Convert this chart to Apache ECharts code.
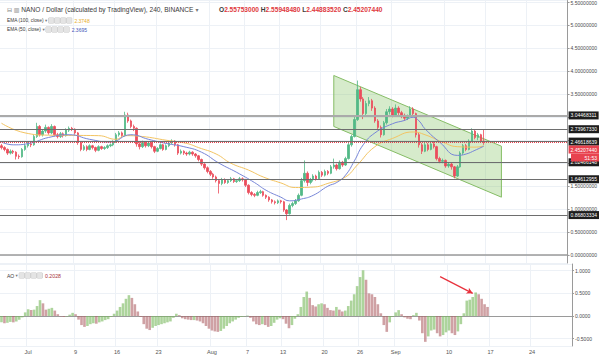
<!DOCTYPE html>
<html><head><meta charset="utf-8">
<script src="https://cdn.jsdelivr.net/npm/echarts@6/dist/echarts.min.js"></script>
<style>html,body{margin:0;padding:0;background:#fff}#c{width:600px;height:356px}</style>
</head><body><div id="c"></div>
<script>
// ---- axis / label data ----
const startUTC = Date.UTC(2018, 5, 26, 12); // first 12h slot
const slotCount = 193;
const dateLabels = [['07-01','Jul'],['07-09','9'],['07-16','16'],['07-23','23'],['08-01','Aug'],['08-07','7'],['08-13','13'],['08-20','20'],['08-26','26'],['09-01','Sep'],['09-10','10'],['09-17','17'],['09-24','24']];
const priceAxis = {min: -0.174, max: 5.543};
const hiddenPriceTicks = [3.0, 2.5, 2.0]; // covered by level labels in the reference
const aoAxis = {min: -0.662, max: 1.148};

// ---- candles: [open, close, low, high] per 12h slot ----
const candles = [
[2.38,2.34,2.30,2.42],[2.34,2.30,2.26,2.37],[2.30,2.22,2.18,2.32],[2.22,2.26,2.19,2.30],[2.26,2.24,2.20,2.29],
[2.24,2.15,2.08,2.26],[2.15,2.14,2.09,2.19],[2.14,2.30,2.12,2.33],[2.30,2.38,2.27,2.43],[2.38,2.42,2.34,2.47],
[2.42,2.40,2.35,2.46],[2.40,2.58,2.38,2.62],[2.58,2.80,2.55,2.88],[2.80,2.62,2.58,2.83],[2.62,2.70,2.58,2.74],
[2.70,2.78,2.66,2.84],[2.78,2.66,2.62,2.80],[2.66,2.80,2.63,2.85],[2.80,2.62,2.58,2.82],[2.62,2.58,2.54,2.66],
[2.58,2.64,2.55,2.68],[2.64,2.60,2.56,2.67],[2.60,2.72,2.58,2.76],[2.72,2.76,2.68,2.80],[2.76,2.74,2.70,2.79],
[2.74,2.66,2.62,2.76],[2.66,2.45,2.40,2.68],[2.45,2.30,2.26,2.48],[2.30,2.36,2.27,2.40],[2.36,2.30,2.26,2.39],
[2.30,2.38,2.28,2.41],[2.38,2.34,2.30,2.40],[2.34,2.28,2.24,2.36],[2.28,2.36,2.26,2.39],[2.36,2.32,2.29,2.38],
[2.32,2.34,2.29,2.37],[2.34,2.38,2.31,2.41],[2.38,2.40,2.35,2.43],[2.40,2.46,2.37,2.50],[2.46,2.62,2.44,2.66],
[2.62,2.66,2.58,2.70],[2.66,2.60,2.56,2.69],[2.60,3.05,2.58,3.12],[3.05,2.92,2.88,3.10],[2.92,2.80,2.76,2.95],
[2.80,2.76,2.70,2.84],[2.76,2.42,2.36,2.78],[2.42,2.36,2.30,2.46],[2.36,2.45,2.33,2.49],[2.45,2.38,2.34,2.48],
[2.38,2.44,2.35,2.47],[2.44,2.36,2.32,2.46],[2.36,2.26,2.22,2.38],[2.26,2.32,2.24,2.35],[2.32,2.40,2.30,2.43],
[2.40,2.30,2.27,2.42],[2.30,2.38,2.28,2.41],[2.38,2.44,2.35,2.48],[2.44,2.48,2.41,2.52],[2.48,2.40,2.36,2.50],
[2.40,2.22,2.18,2.42],[2.22,2.26,2.19,2.30],[2.26,2.22,2.18,2.28],[2.22,2.20,2.16,2.25],[2.20,2.24,2.17,2.27],
[2.24,2.20,2.16,2.26],[2.20,2.16,2.12,2.22],[2.16,2.08,2.04,2.18],[2.08,1.98,1.94,2.10],[1.98,1.90,1.86,2.00],
[1.90,1.82,1.78,1.93],[1.82,1.76,1.72,1.85],[1.76,1.70,1.66,1.79],[1.70,1.62,1.58,1.73],[1.62,1.56,1.34,1.65],
[1.56,1.64,1.52,1.68],[1.64,1.58,1.55,1.67],[1.58,1.62,1.55,1.65],[1.62,1.66,1.59,1.70],[1.66,1.60,1.57,1.68],
[1.60,1.62,1.57,1.65],[1.62,1.66,1.59,1.70],[1.66,1.64,1.60,1.69],[1.64,1.52,1.48,1.66],[1.52,1.36,1.32,1.54],
[1.36,1.32,1.28,1.39],[1.32,1.30,1.26,1.35],[1.30,1.36,1.28,1.40],[1.36,1.38,1.33,1.42],[1.38,1.30,1.27,1.40],
[1.30,1.26,1.22,1.32],[1.26,1.20,1.16,1.28],[1.20,1.16,1.12,1.22],[1.16,1.14,1.10,1.19],[1.14,1.18,1.11,1.21],
[1.18,1.16,1.12,1.20],[1.16,0.98,0.94,1.18],[0.98,0.90,0.76,1.00],[0.90,1.08,0.88,1.12],[1.08,1.12,1.04,1.16],
[1.12,1.18,1.09,1.22],[1.18,1.30,1.16,1.34],[1.30,1.62,1.28,1.68],[1.62,1.78,1.58,2.06],[1.78,1.58,1.50,1.82],
[1.58,1.64,1.54,1.68],[1.64,1.72,1.60,1.76],[1.72,1.66,1.62,1.75],[1.66,1.80,1.64,1.84],[1.80,1.74,1.70,1.83],
[1.74,1.82,1.71,1.86],[1.82,1.78,1.74,1.85],[1.78,1.92,1.76,1.96],[1.92,1.96,1.88,2.10],[1.96,1.88,1.84,1.99],
[1.88,2.02,1.86,2.06],[2.02,1.96,1.92,2.05],[1.96,2.10,1.94,2.14],[2.10,2.40,2.08,2.46],[2.40,2.58,2.36,2.62],
[2.58,2.95,2.56,3.02],[2.95,3.60,2.92,3.80],[3.60,3.40,3.34,3.66],[3.40,3.08,2.96,3.44],[3.08,3.30,3.04,3.36],
[3.30,3.36,3.24,3.44],[3.36,3.20,3.14,3.40],[3.20,2.92,2.88,3.24],[2.92,2.78,2.72,2.96],[2.78,2.62,2.56,2.82],
[2.62,2.88,2.60,2.92],[2.88,3.12,2.84,3.18],[3.12,3.18,3.06,3.24],[3.18,3.05,3.00,3.22],[3.05,3.20,3.02,3.28],
[3.20,3.10,3.05,3.24],[3.10,3.04,2.98,3.14],[3.04,2.98,2.92,3.08],[2.98,3.02,2.94,3.06],[3.02,3.18,3.00,3.24],
[3.18,3.08,3.02,3.22],[3.08,2.62,2.56,3.10],[2.62,2.40,2.34,2.66],[2.40,2.26,2.20,2.44],[2.26,2.40,2.24,2.44],
[2.40,2.30,2.26,2.44],[2.30,2.42,2.28,2.46],[2.42,2.36,2.32,2.46],[2.36,2.10,2.06,2.38],[2.10,2.04,2.00,2.14],
[2.04,2.06,2.00,2.10],[2.06,1.94,1.90,2.08],[1.94,1.98,1.90,2.02],[1.98,1.92,1.86,2.01],[1.92,1.72,1.67,1.94],
[1.72,1.92,1.70,1.96],[1.92,2.22,1.90,2.26],[2.22,2.38,2.18,2.42],[2.38,2.30,2.26,2.42],[2.30,2.48,2.28,2.52],
[2.48,2.70,2.46,2.76],[2.70,2.56,2.52,2.74],[2.56,2.62,2.50,2.66],[2.62,2.48,2.44,2.64],[2.48,2.452,2.40,2.73]
];

// ---- EMA lines: [slot, value] ----
const ema100 = [[0,2.87],[8,2.66],[16,2.61],[33,2.60],[39,2.52],[42,2.60],[48,2.58],[56,2.50],[63,2.43],[67,2.34],[73,2.20],[78,2.00],[84,1.85],[89,1.70],[95,1.57],[100,1.47],[106,1.48],[111,1.56],[117,1.70],[121,1.96],[127,2.36],[133,2.54],[140,2.68],[144,2.62],[150,2.46],[155,2.36],[161,2.35],[164,2.375]];
const ema50 = [[0,2.46],[4,2.40],[10,2.44],[16,2.56],[23,2.62],[30,2.52],[37,2.46],[44,2.62],[50,2.52],[56,2.43],[62,2.36],[68,2.24],[74,2.00],[80,1.80],[86,1.58],[90,1.41],[95,1.26],[98,1.18],[102,1.22],[106,1.30],[111,1.50],[114,1.58],[117,1.74],[120,2.05],[123,2.40],[127,2.66],[133,2.86],[137,2.93],[140,3.00],[142,2.92],[144,2.75],[149,2.46],[155,2.17],[158,2.20],[161,2.28],[164,2.37]];

// ---- horizontal levels ----
const levels = [3.04468311, 2.73967330, 2.46618639, 2.02466148, 1.64612955, 0.86803334];
const lastPrice = 2.45207440;
const countdown = '51:53';
const lastOHLC = [['O','2.55753000'],['H','2.55948480'],['L','2.44883520'],['C','2.45207440']];
const emaLegend = [['EMA (100, close)','2.3748'],['EMA (50, close)','2.3695']];
const aoLegendValue = '0.2028';

// ---- channel corners [slot, price] ----
const channel = [[112.5,3.91],[170.2,2.37],[170.2,1.26],[112.5,2.80]];

// ---- AO histogram values per slot ----
const ao = [
-0.14,-0.16,-0.15,-0.13,-0.14,-0.12,-0.08,-0.03,0.08,0.15,
0.13,0.14,0.22,0.35,0.28,0.14,0.16,0.18,0.12,0.04,
-0.01,-0.02,-0.01,0.03,0.07,0.04,-0.08,-0.20,-0.24,-0.22,
-0.18,-0.16,-0.17,-0.14,-0.12,-0.09,-0.07,-0.02,0.05,0.12,
0.20,0.28,0.38,0.46,0.40,0.26,0.10,-0.02,-0.18,-0.28,
-0.31,-0.26,-0.22,-0.20,-0.18,-0.16,-0.14,-0.12,-0.04,0.05,
0.02,-0.05,-0.07,-0.08,-0.09,-0.09,-0.10,-0.12,-0.16,-0.22,
-0.28,-0.32,-0.34,-0.35,-0.33,-0.28,-0.22,-0.16,-0.12,-0.08,
-0.04,-0.02,-0.01,0.01,-0.04,-0.12,-0.18,-0.20,-0.18,-0.20,
-0.24,-0.22,-0.15,-0.08,-0.05,-0.07,-0.17,-0.27,-0.20,-0.06,
0.04,0.20,0.42,0.54,0.40,0.24,0.21,0.26,0.28,0.26,
0.18,0.13,0.12,0.20,0.14,0.10,0.12,0.22,0.34,0.48,
0.66,0.86,1.01,0.80,0.50,0.48,0.42,0.26,0.06,-0.20,
-0.35,-0.14,-0.02,0.08,0.13,0.04,-0.03,-0.06,-0.07,0.02,
0.07,-0.10,-0.38,-0.57,-0.45,-0.32,-0.30,-0.38,-0.45,-0.42,
-0.36,-0.32,-0.38,-0.42,-0.34,-0.18,0.06,0.34,0.36,0.42,
0.52,0.48,0.38,0.26,0.20
];
const arrowAO = [[148,0.87],[159,0.50]];

// ---- build ----
const pad = n => (n < 10 ? '0' : '') + n;
const categories = [];
for (let i = 0; i < slotCount; i++) {
  const d = new Date(startUTC + i * 12 * 3600e3);
  categories.push(pad(d.getUTCMonth() + 1) + '-' + pad(d.getUTCDate()) + ' ' + pad(d.getUTCHours()));
}
const labelMap = {};
dateLabels.forEach(([d, l]) => { labelMap[d + ' 00'] = l; });
const showTick = (idx, val) => labelMap[val] !== undefined;

const aoData = ao.map((v, i) => ({
  value: v,
  itemStyle: {color: (i > 0 && v < ao[i - 1]) ? 'rgba(178,104,108,0.62)' : 'rgba(122,186,96,0.62)'}
}));

const FONT = 'Liberation Sans';
const gridLine = {show: true, lineStyle: {color: '#edf1f6', width: 1}};
const boxRich = {width: 5, height: 5, backgroundColor: '#e4e4e4', borderColor: '#c4c4c4', borderWidth: 0.5, fontSize: 4, color: '#999', align: 'center'};
const boxes = ' {b|}{s|}{b|}{s|}{b|}{s|}{b|}  ';

const levelMarks = levels.map((v, i) => ({
  yAxis: v,
  lineStyle: {color: i === 0 ? '#aaaaaa' : '#6e6e6e', width: i === 0 ? 2 : 1.2, type: 'solid'},
  label: {formatter: v.toFixed(8)}
}));
levelMarks.push({
  yAxis: lastPrice,
  lineStyle: {color: '#e8424e', width: 1, type: 'dotted'},
  label: {
    formatter: '{sp|}\n{a|' + lastPrice.toFixed(8) + '}\n{c|' + countdown + '}',
    backgroundColor: 'transparent', padding: 0, verticalAlign: 'top',
    rich: {
      sp: {height: 3},
      a: {backgroundColor: '#e8424e', color: '#fff', fontSize: 5, padding: [1.5, 2], fontFamily: FONT},
      c: {backgroundColor: '#e8424e', color: '#fff', fontSize: 5, padding: [1.5, 2], fontFamily: FONT, width: 24, align: 'right'}
    }
  }
});

const option = {
  animation: false,
  backgroundColor: '#ffffff',
  title: [
    {left: 2, top: 1, text: '{g|⊟} {g|▥} NANO / Dollar (calculated by TradingView), 240, BINANCE {g|▾}',
     textStyle: {fontSize: 6.6, color: '#3a3a3a', fontWeight: 'normal', fontFamily: FONT, rich: {g: {fontSize: 6, color: '#777', fontFamily: 'DejaVu Sans'}}}},
    {left: 214, top: 1, text: lastOHLC.map(([k, v]) => '{k|' + k + '}{r|' + v + '}').join(' '),
     textStyle: {fontSize: 6.6, fontFamily: FONT, rich: {k: {color: '#3a3a3a', fontSize: 6.6, fontFamily: FONT}, r: {color: '#e0393e', fontSize: 6.6, fontFamily: FONT}}}},
    {left: 2, top: 13, text: emaLegend[0][0] + ' {g|▾}' + boxes + '{v|' + emaLegend[0][1] + '}',
     textStyle: {fontSize: 4.8, color: '#3a3a3a', fontWeight: 'normal', fontFamily: FONT,
       rich: {g: {fontSize: 4.5, color: '#777', fontFamily: 'DejaVu Sans'}, b: boxRich, s: {width: 1}, v: {color: '#e7ad29', fontSize: 5, fontFamily: FONT}}}},
    {left: 2, top: 22, text: emaLegend[1][0] + ' {g|▾}' + boxes + '{v|' + emaLegend[1][1] + '}',
     textStyle: {fontSize: 4.8, color: '#3a3a3a', fontWeight: 'normal', fontFamily: FONT,
       rich: {g: {fontSize: 4.5, color: '#777', fontFamily: 'DejaVu Sans'}, b: boxRich, s: {width: 1}, v: {color: '#4356b8', fontSize: 5, fontFamily: FONT}}}},
    {left: 2, top: 268, text: 'AO {g|▾}' + boxes + '{v|' + aoLegendValue + '}',
     textStyle: {fontSize: 5, color: '#3a3a3a', fontWeight: 'normal', fontFamily: FONT,
       rich: {g: {fontSize: 4.5, color: '#777', fontFamily: 'DejaVu Sans'}, b: boxRich, s: {width: 1}, v: {color: '#a8323c', fontSize: 5.2, fontFamily: FONT}}}}
  ],
  grid: [
    {left: 0, top: 0, width: 572, height: 263},
    {left: 0, top: 264, width: 572, height: 82}
  ],
  xAxis: [
    {type: 'category', gridIndex: 0, data: categories, boundaryGap: true,
     axisLabel: {show: false}, axisTick: {show: false},
     axisLine: {show: true, lineStyle: {color: '#9a9a9a', width: 1.5}},
     splitLine: {show: true, interval: showTick, lineStyle: {color: '#edf1f6'}}},
    {type: 'category', gridIndex: 1, data: categories, boundaryGap: true,
     axisTick: {show: false},
     axisLine: {show: true, lineStyle: {color: '#9a9a9a', width: 1}},
     axisLabel: {show: true, interval: showTick, formatter: v => labelMap[v] || '', fontSize: 5.6, color: '#555', margin: 3, fontFamily: FONT},
     splitLine: {show: true, interval: showTick, lineStyle: {color: '#edf1f6'}}}
  ],
  yAxis: [
    {type: 'value', gridIndex: 0, position: 'right', min: priceAxis.min, max: priceAxis.max, splitNumber: 11, scale: true,
     axisLine: {show: true, lineStyle: {color: '#9a9a9a', width: 1}}, axisTick: {show: true, length: 2, lineStyle: {color: '#9a9a9a'}},
     axisLabel: {fontSize: 5, color: '#4a4a4a', margin: 3, fontFamily: FONT,
       formatter: v => hiddenPriceTicks.some(h => Math.abs(h - v) < 1e-6) ? '' : v.toFixed(8),
       showMinLabel: false, showMaxLabel: false},
     splitLine: gridLine},
    {type: 'value', gridIndex: 1, position: 'right', min: aoAxis.min, max: aoAxis.max, splitNumber: 4,
     axisLine: {show: true, lineStyle: {color: '#9a9a9a', width: 1}}, axisTick: {show: true, length: 2, lineStyle: {color: '#9a9a9a'}},
     axisLabel: {fontSize: 5, color: '#4a4a4a', margin: 3, fontFamily: FONT, formatter: v => v.toFixed(4), showMinLabel: false, showMaxLabel: false},
     splitLine: gridLine}
  ],
  series: [
    {type: 'custom', xAxisIndex: 0, yAxisIndex: 0, z: 1, silent: true, data: [[0, 0]], clip: false,
     renderItem: (params, api) => ({
       type: 'polygon',
       shape: {points: channel.map(p => api.coord(p))},
       style: {fill: 'rgba(128,192,92,0.32)', stroke: '#86bd66', lineWidth: 1}
     })},
    {type: 'candlestick', xAxisIndex: 0, yAxisIndex: 0, z: 3, data: candles, barWidth: 2,
     itemStyle: {color: '#53b987', color0: '#eb4d5c', borderColor: '#53b987', borderColor0: '#eb4d5c', borderWidth: 0.8},
     markLine: {silent: true, symbol: ['none', 'none'], animation: false,
       label: {show: true, position: 'end', distance: 1, color: '#fff', backgroundColor: '#1d1d1d', padding: [1.5, 2], fontSize: 5, fontFamily: FONT},
       data: levelMarks}},
    {type: 'line', xAxisIndex: 0, yAxisIndex: 0, z: 4, data: ema100, smooth: 0.5, symbol: 'none',
     lineStyle: {color: '#f3c462', width: 1}},
    {type: 'line', xAxisIndex: 0, yAxisIndex: 0, z: 4, data: ema50, smooth: 0.5, symbol: 'none',
     lineStyle: {color: '#7786d8', width: 1}},
    {type: 'bar', xAxisIndex: 1, yAxisIndex: 1, data: aoData, barCategoryGap: '12%',
     markLine: {silent: true, symbol: ['none', 'arrow'], symbolSize: [5, 6],
       lineStyle: {color: '#e8313c', width: 1.2, type: 'solid'}, label: {show: false},
       data: [[{coord: arrowAO[0]}, {coord: arrowAO[1]}]]}}
  ]
};

const chart = echarts.init(document.getElementById('c'), null, {renderer: 'svg', width: 600, height: 356});
chart.setOption(option);
</script>
</body></html>
